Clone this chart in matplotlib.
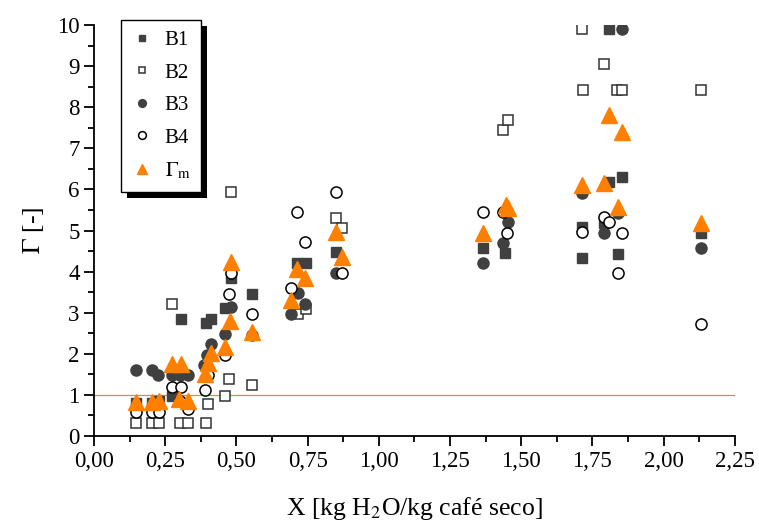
import matplotlib.pyplot as plt
from matplotlib.ticker import MultipleLocator, FuncFormatter
from matplotlib.patches import Rectangle
from matplotlib.transforms import IdentityTransform

# B1 - filled squares
b1_x = [0.147, 0.202, 0.228, 0.272, 0.304, 0.393, 0.412, 0.459, 0.48, 0.556,
        0.714, 0.743, 0.848, 1.365, 1.444, 1.715, 1.715, 1.79, 1.81, 1.81,
        1.853, 1.84, 2.13]
b1_y = [0.81, 0.81, 0.85, 0.98, 2.84, 2.74, 2.84, 3.11, 3.84, 3.45,
        4.20, 4.20, 4.47, 4.57, 4.46, 4.32, 5.09, 5.18, 6.19, 9.90,
        6.31, 4.44, 4.95]

# B2 - open squares
b2_x = [0.147, 0.202, 0.228, 0.272, 0.30, 0.328, 0.393, 0.40, 0.461, 0.474,
        0.48, 0.556, 0.716, 0.743, 0.848, 0.871, 1.435, 1.452, 1.713, 1.717,
        1.79, 1.838, 1.853, 2.13]
b2_y = [0.31, 0.31, 0.31, 3.21, 0.32, 0.32, 0.32, 0.79, 0.98, 1.38,
        5.93, 1.24, 2.98, 3.08, 5.31, 5.07, 7.44, 7.68, 9.90, 8.42,
        9.04, 8.42, 8.42, 8.42]

# B3 - filled circles
b3_x = [0.147, 0.202, 0.226, 0.272, 0.30, 0.33, 0.385, 0.395, 0.412, 0.461,
        0.48, 0.556, 0.693, 0.716, 0.74, 0.848, 1.365, 1.435, 1.452, 1.715,
        1.79, 1.84, 1.853, 2.13]
b3_y = [1.61, 1.61, 1.48, 1.48, 1.48, 1.48, 1.73, 1.97, 2.24, 2.48,
        3.15, 2.46, 2.97, 3.47, 3.21, 3.96, 4.20, 4.70, 5.20, 5.92,
        4.95, 5.42, 9.90, 4.57]

# B4 - open circles
b4_x = [0.147, 0.202, 0.228, 0.272, 0.304, 0.30, 0.328, 0.39, 0.40, 0.461,
        0.474, 0.48, 0.556, 0.693, 0.714, 0.74, 0.848, 0.871, 1.365, 1.435,
        1.45, 1.715, 1.79, 1.81, 1.84, 1.853, 2.13]
b4_y = [0.59, 0.59, 0.59, 1.20, 1.20, 0.85, 0.65, 1.12, 1.48, 1.97,
        3.45, 3.96, 2.96, 3.59, 5.44, 4.71, 5.93, 3.96, 5.44, 5.44,
        4.95, 4.97, 5.32, 5.21, 3.96, 4.95, 2.72]

# Gamma_m - orange triangles
gm_x = [0.147, 0.202, 0.228, 0.272, 0.304, 0.299, 0.33, 0.39, 0.40, 0.412,
        0.461, 0.477, 0.48, 0.556, 0.693, 0.714, 0.74, 0.848, 0.871, 1.365,
        1.446, 1.452, 1.715, 1.79, 1.81, 1.84, 1.853, 2.13]
gm_y = [0.83, 0.83, 0.84, 1.74, 1.74, 0.89, 0.86, 1.50, 1.77, 2.03,
        2.16, 2.81, 4.24, 2.54, 3.31, 4.06, 3.85, 4.96, 4.35, 4.95,
        5.62, 5.55, 6.10, 6.15, 7.81, 5.58, 7.40, 5.19]

plt.rcParams['font.family'] = ['Liberation Serif', 'DejaVu Serif']
plt.rcParams['mathtext.fontset'] = 'stix'

dark = '#404040'
orange = '#ff8000'

fig = plt.figure(figsize=(7.59, 5.25), dpi=100)
ax = fig.add_axes((0.124, 0.1695, 0.844, 0.7829))

ax.axhline(1, color='#d9895a', lw=0.9, zorder=1)

ax.plot(b1_x, b1_y, 's', ms=7, color=dark, mec=dark, label='B1')
ax.plot(b2_x, b2_y, 's', ms=7, mfc='white', mec='#333333', mew=1.1, label='B2')
ax.plot(b3_x, b3_y, 'o', ms=8, color=dark, mec=dark, label='B3')
ax.plot(b4_x, b4_y, 'o', ms=8, mfc='white', mec='black', mew=1.1, label='B4')
ax.plot(gm_x, gm_y, '^', ms=11, color=orange, mec=orange, label=r'$\Gamma_{\mathrm{m}}$')

ax.set_xlim(0, 2.25)
ax.set_ylim(0, 10)
ax.spines['top'].set_visible(False)
ax.spines['right'].set_visible(False)
ax.spines['left'].set_linewidth(1.3)
ax.spines['bottom'].set_linewidth(1.3)

ax.xaxis.set_major_locator(MultipleLocator(0.25))
ax.xaxis.set_minor_locator(MultipleLocator(0.125))
ax.yaxis.set_major_locator(MultipleLocator(1))
ax.yaxis.set_minor_locator(MultipleLocator(0.5))
ax.xaxis.set_major_formatter(FuncFormatter(lambda v, p: f'{v:.2f}'.replace('.', ',')))
ax.tick_params(which='major', direction='out', length=7, width=1.3, labelsize=16.5)
ax.tick_params(which='minor', direction='out', length=4, width=1.3)

ax.set_xlabel(r'X [kg H$_2$O/kg café seco]', fontsize=18.5, labelpad=17)
ax.set_ylabel(r'$\Gamma$ [-]', fontsize=18.5, labelpad=8)

leg = ax.legend(loc='upper left', bbox_to_anchor=(0.042, 1.012), frameon=True,
                fancybox=False, shadow=False, borderaxespad=0,
                fontsize=15, markerscale=0.7, handlelength=1.0,
                handletextpad=0.6, labelspacing=0.62, borderpad=0.5)
leg.get_frame().set_edgecolor('black')
leg.get_frame().set_linewidth(1.0)
leg.get_frame().set_alpha(1)

# solid black drop shadow, offset right/down
fig.canvas.draw()
bb = leg.get_window_extent()
shadow = Rectangle((bb.x0 + 6, bb.y0 - 6), bb.width, bb.height,
                   transform=IdentityTransform(), facecolor='black',
                   edgecolor='none', zorder=4.9, clip_on=False)
ax.add_artist(shadow)

fig.savefig('out.png', dpi=100)
